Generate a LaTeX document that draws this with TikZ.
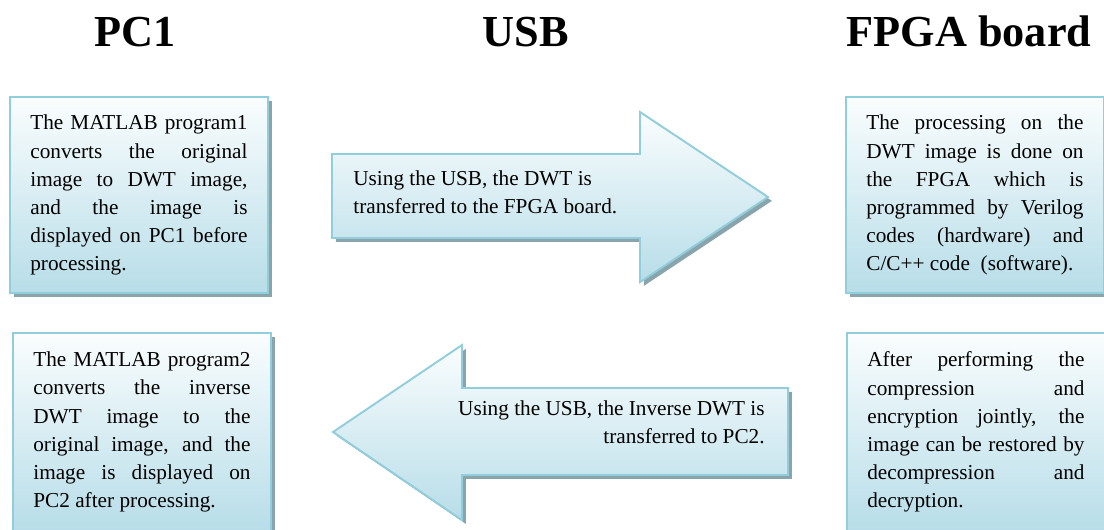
\documentclass[tikz,border=0pt]{standalone}
\usepackage{fontspec}
\setmainfont{Liberation Serif}
\usetikzlibrary{shadows}
\definecolor{usbline}{RGB}{146,205,220}
\definecolor{usbtop}{RGB}{250,253,254}
\definecolor{usbbottom}{RGB}{183,221,232}
\definecolor{usbshade}{RGB}{138,164,172}

\begin{document}
\begin{tikzpicture}[x=0.02cm, y=-0.02cm,
  stepbox/.style={draw=usbline, line width=1.1pt,
                  top color=usbtop, bottom color=usbbottom,
                  general shadow={fill=usbshade, shadow xshift=2.2pt, shadow yshift=-2.2pt},
                  anchor=north west, minimum width=146.8pt,
                  text width=123.6pt, inner xsep=11.6pt, align=justify,
                  font=\fontsize{12.1}{16}\selectfont},
  flow/.style={draw=usbline, line width=1.1pt,
               top color=usbtop, bottom color=usbbottom,
               general shadow={fill=usbshade, shadow xshift=2.2pt, shadow yshift=-2.2pt}},
  title/.style={font=\fontsize{25.2}{30}\selectfont\bfseries, anchor=base},
  note/.style={font=\fontsize{12.1}{16}\selectfont, inner sep=0pt},
]
\useasboundingbox (0,0) rectangle (1104,529);
\clip (0,0) rectangle (1104,529);

% ---- Titles ----
\node[title] (pc)   at (135,46) {PC1};
\node[title] (usb)  at (526,46) {USB};
\node[title] (fpga) at (969,46) {FPGA board};

% ---- PC side ----
\node[stepbox, minimum height=111.7pt] (pcA) at (9,96)
  {The MATLAB program1\linebreak converts the original\linebreak
   image to DWT image,\linebreak and the image is\linebreak
   displayed on PC1 before\linebreak processing.};
\node[stepbox, minimum height=112.8pt] (pcB) at (12,332)
  {The MATLAB program2\linebreak converts the inverse\linebreak
   DWT image to the\linebreak original image, and the\linebreak
   image is displayed on\linebreak PC2 after processing.};

% ---- FPGA side ----
\node[stepbox, minimum height=111.7pt] (fpgaA) at (845,96)
  {The processing on the\linebreak DWT image is done on\linebreak
   the FPGA which is\linebreak programmed by Verilog\linebreak
   codes (hardware) and\linebreak C/C++ code\ \ (software).};
\node[stepbox, minimum height=112.8pt] (fpgaB) at (846,332)
  {After performing the\linebreak compression and\linebreak
   encryption jointly, the\linebreak image can be restored by\linebreak
   decompression and\linebreak decryption.};

% ---- USB transfers ----
\path[flow] (332,154) -- (640,154) -- (640,112) -- (768,197)
  -- (640,282) -- (640,238) -- (332,238) -- cycle;
\node[note, anchor=north west, align=left] (toboard) at (353,170)
  {Using the USB, the DWT is\\transferred to the FPGA board.};

\path[flow] (333,432) -- (462,345) -- (462,388) -- (788,388)
  -- (788,475) -- (462,475) -- (462,520) -- cycle;
\node[note, anchor=north east, align=right] (topc) at (765,400)
  {Using the USB, the Inverse DWT is\\transferred to PC2.};

\end{tikzpicture}
\end{document}
